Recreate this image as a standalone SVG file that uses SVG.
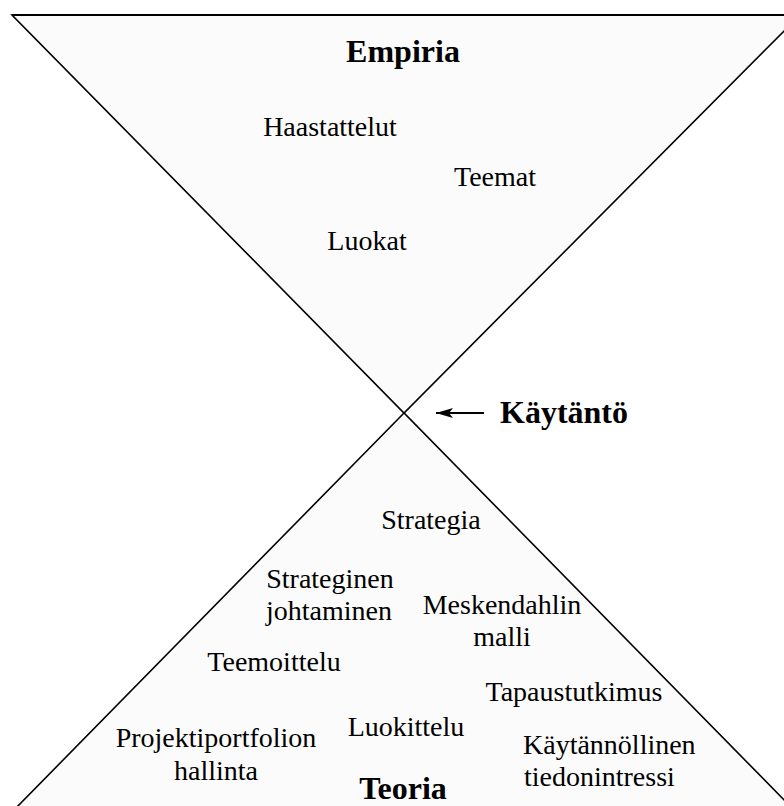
<svg xmlns="http://www.w3.org/2000/svg" width="784" height="806" viewBox="0 0 784 806">
<defs>
<style>
.t{font-family:"Liberation Serif","Times New Roman",serif;font-size:28px;fill:#000;}
.b{font-family:"Liberation Serif","Times New Roman",serif;font-size:32px;font-weight:bold;fill:#000;}
.m{text-anchor:middle;}
.shape{fill:#fbfbfb;stroke:#000;stroke-width:1.6;}
</style>
<marker id="ah" markerWidth="17" markerHeight="10" refX="17" refY="5" orient="auto" markerUnits="userSpaceOnUse">
<path d="M0,0 L17,5 L0,10 L4,5 Z" fill="#000"/>
</marker>
</defs>
<rect width="784" height="806" fill="#fff"/>
<g id="empiria-triangle">
<polygon class="shape" points="12,15 800,15 404,413"/>
<line x1="12" y1="15" x2="784" y2="15" stroke="#000" stroke-width="2.2"/>
</g>
<g id="teoria-triangle">
<polygon class="shape" points="404,413 14,810 794,810"/>
</g>
<g id="connectors">
<line x1="484" y1="413" x2="436" y2="413" stroke="#000" stroke-width="2" marker-end="url(#ah)"/>
</g>
<g id="empiria">
<text class="b m" x="403" y="62">Empiria</text>
<text class="t m" x="330" y="136">Haastattelut</text>
<text class="t m" x="495" y="186">Teemat</text>
<text class="t m" x="367" y="250">Luokat</text>
</g>
<g id="kaytanto">
<text class="b" x="500" y="423">Käytäntö</text>
</g>
<g id="teoria">
<text class="t m" x="431" y="529">Strategia</text>
<text class="t m" x="330" y="588">Strateginen</text>
<text class="t m" x="329" y="620">johtaminen</text>
<text class="t m" x="502" y="614">Meskendahlin</text>
<text class="t m" x="502" y="646">malli</text>
<text class="t m" x="274" y="671">Teemoittelu</text>
<text class="t m" x="574" y="701">Tapaustutkimus</text>
<text class="t m" x="406" y="736">Luokittelu</text>
<text class="t m" x="216" y="747">Projektiportfolion</text>
<text class="t m" x="216" y="780">hallinta</text>
<text class="t" x="523" y="754">Käytännöllinen</text>
<text class="t" x="524" y="786">tiedonintressi</text>
<text class="b m" x="403" y="799">Teoria</text>
</g>
</svg>
